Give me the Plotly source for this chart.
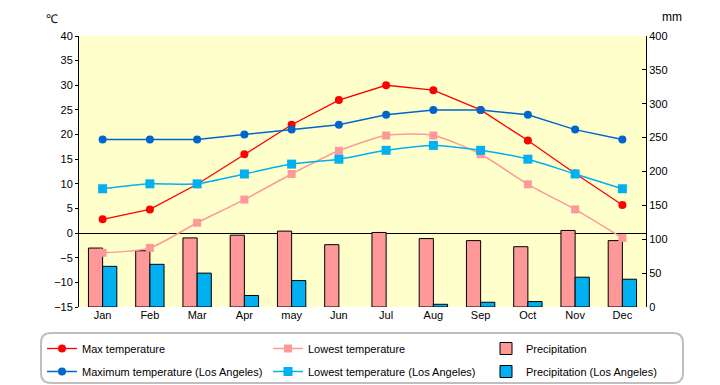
import plotly.graph_objects as go

months = ["Jan", "Feb", "Mar", "Apr", "may", "Jun", "Jul", "Aug", "Sep", "Oct", "Nov", "Dec"]
max_temp = [2.8, 4.8, 9.9, 16.0, 22.0, 27.0, 30.0, 29.0, 25.0, 18.8, 12.1, 5.7]
low_temp = [-4.0, -3.0, 2.1, 6.8, 12.0, 16.7, 19.8, 19.8, 16.0, 9.9, 4.8, -1.0]
precip = [87, 83, 102, 106, 112, 92, 110, 101, 98, 89, 113, 98]
la_max = [19, 19, 19, 20, 21, 22, 24, 25, 25, 24, 21, 19]
la_low = [9, 10, 10, 12, 14, 15, 16.8, 17.8, 16.8, 15, 12, 9]
la_precip = [60, 63, 50, 17, 39, 0, 0, 4, 7, 8, 44, 41]

FONT = "Liberation Sans, Arial, sans-serif"
RED = "#FF0000"
PINK = "#FF9999"
BLUE = "#0066CC"
SKY = "#00B0F0"

fig = go.Figure()
fig.add_trace(go.Bar(x=months, y=precip, name="Precipitation", yaxis="y",
                     marker=dict(color=PINK, line=dict(color="black", width=1)),
                     legend="legend3", legendgroup="p1"))
fig.add_trace(go.Bar(x=months, y=la_precip, name="Precipitation (Los Angeles)", yaxis="y",
                     marker=dict(color=SKY, line=dict(color="black",
                                                      width=[1 if v > 0 else 0 for v in la_precip])),
                     legend="legend3", legendgroup="p2"))
fig.add_trace(go.Scatter(x=months, y=max_temp, name="Max temperature", yaxis="y2",
                         mode="lines+markers", line=dict(color=RED, width=1.3),
                         marker=dict(symbol="circle", size=8, color=RED),
                         legend="legend", legendgroup="m1"))
fig.add_trace(go.Scatter(x=months, y=la_max, name="Maximum temperature (Los Angeles)", yaxis="y2",
                         mode="lines+markers", line=dict(color=BLUE, width=1.5),
                         marker=dict(symbol="circle", size=8, color=BLUE),
                         legend="legend", legendgroup="m2"))
fig.add_trace(go.Scatter(x=months, y=low_temp, name="Lowest temperature", yaxis="y2",
                         mode="lines+markers", line=dict(color=PINK, width=1.5, shape="spline", smoothing=0.7),
                         marker=dict(symbol="square", size=8, color=PINK),
                         legend="legend2", legendgroup="l1"))
fig.add_trace(go.Scatter(x=months, y=la_low, name="Lowest temperature (Los Angeles)", yaxis="y2",
                         mode="lines+markers", line=dict(color=SKY, width=1.5, shape="spline", smoothing=0.7),
                         marker=dict(symbol="square", size=9, color=SKY),
                         legend="legend2", legendgroup="l2"))

# the page body adds an 8px offset; the figure is sized so the plot lands in place
OFF = 8
W, H = 720 - OFF, 385 - OFF
L, R, T, B = 79 - OFF, 74, 36 - OFF, 78
pw, ph = W - L - R, H - T - B

def px(x):
    return (x - 79) / pw

def py(y):
    return (307 - y) / ph

x0, x1, y0, y1 = px(41), px(683), py(333), py(383)
rx, ry = 10 / pw, 10 / ph
path = (f"M{x0+rx},{y0} L{x1-rx},{y0} Q{x1},{y0} {x1},{y0-ry} "
        f"L{x1},{y1+ry} Q{x1},{y1} {x1-rx},{y1} L{x0+rx},{y1} "
        f"Q{x0},{y1} {x0},{y1+ry} L{x0},{y0-ry} Q{x0},{y0} {x0+rx},{y0} Z")

legend_common = dict(orientation="v", bgcolor="rgba(0,0,0,0)", borderwidth=0,
                     font=dict(family=FONT, size=11, color="black"),
                     itemwidth=30, xanchor="left", yanchor="top", tracegroupgap=4,
                     traceorder="grouped")

fig.update_layout(
    width=W, height=H,
    margin=dict(l=L, r=R, t=T, b=B, autoexpand=False),
    paper_bgcolor="white",
    plot_bgcolor="#FFFFCC",
    font=dict(family=FONT, size=11, color="black"),
    barmode="group", bargap=0.4, bargroupgap=0,
    showlegend=True,
    xaxis=dict(showgrid=False, showline=False, ticks="", zeroline=False,
               range=[-0.5, len(months) - 0.5], tickfont=dict(size=11)),
    yaxis=dict(side="right", range=[0, 400], dtick=50, showgrid=False, zeroline=False,
               showline=True, linecolor="black", linewidth=1, ticks="inside",
               ticklen=4, tickcolor="black", tickfont=dict(size=11)),
    yaxis2=dict(overlaying="y", side="left", range=[-15, 40], dtick=5, showgrid=False,
                zeroline=True, zerolinecolor="black", zerolinewidth=1,
                showline=True, linecolor="black", linewidth=1, ticks="outside",
                ticklen=3, tickcolor="black", tickfont=dict(size=11)),
    legend=dict(x=px(42), y=py(334), **legend_common),
    legend2=dict(x=px(268), y=py(334), **legend_common),
    legend3=dict(x=px(486), y=py(334), **legend_common),
    shapes=[dict(type="path", path=path, xref="paper", yref="paper",
                 line=dict(color="#BFBFBF", width=2), fillcolor="rgba(0,0,0,0)")],
    annotations=[
        dict(text="℃", x=px(52), y=py(28), xref="paper", yref="paper",
             xanchor="center", yanchor="bottom", showarrow=False, font=dict(size=12)),
        dict(text="mm", x=px(672), y=py(26), xref="paper", yref="paper",
             xanchor="center", yanchor="bottom", showarrow=False, font=dict(size=12)),
    ],
)

fig.write_html("out.html")
